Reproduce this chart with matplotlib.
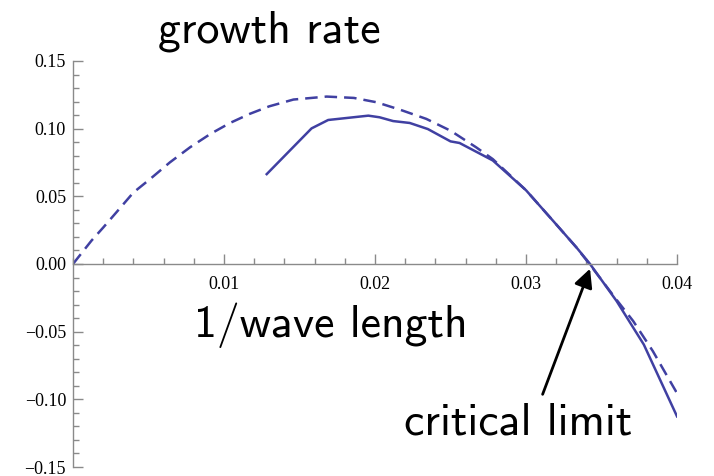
import matplotlib.pyplot as plt
from matplotlib.ticker import MultipleLocator, FixedLocator

# wave number (1/wave length) and growth rate, model curve
k_model = [0.0, 0.00123, 0.002, 0.0029, 0.004, 0.0051, 0.00642, 0.00775,
           0.0091, 0.0104, 0.0117, 0.013, 0.0146, 0.0168, 0.0186, 0.0201,
           0.02166, 0.0234, 0.025, 0.0267, 0.0278, 0.030, 0.0318, 0.03335,
           0.0342, 0.036, 0.0371, 0.0384, 0.04]
rate_model = [0.0, 0.0173, 0.0269, 0.0385, 0.0528, 0.0627, 0.0751, 0.0862,
              0.0961, 0.1042, 0.1109, 0.1165, 0.1215, 0.1237, 0.1227, 0.1195,
              0.114, 0.1072, 0.0985, 0.0862, 0.0775, 0.0545, 0.0318, 0.0121,
              0.0, -0.0265, -0.0422, -0.0644, -0.0955]

# simulation points
k_sim = [0.01283, 0.0158, 0.0169, 0.01956, 0.0203, 0.0212, 0.0223, 0.0235,
         0.025, 0.0256, 0.027, 0.0278, 0.030, 0.0318, 0.03335, 0.03424,
         0.036, 0.0378, 0.04]
rate_sim = [0.0664, 0.1002, 0.1064, 0.1096, 0.1084, 0.1056, 0.1042, 0.0997,
            0.0906, 0.0894, 0.0812, 0.0765, 0.0545, 0.0318, 0.0121, 0.0,
            -0.0274, -0.0595, -0.1126]

x_ticks = [0.01, 0.02, 0.03, 0.04]
y_ticks = [-0.15, -0.10, -0.05, 0.00, 0.05, 0.10, 0.15]

line_color = '#4040a2'
axis_color = '#8a8a8a'

fig = plt.figure(figsize=(7.14, 4.76), dpi=100)
ax = fig.add_axes([0.1022, 0.0189, 0.846, 0.853])

ax.plot(k_model, rate_model, color=line_color, lw=1.8, ls=(0, (5, 2.8)))
ax.plot(k_sim, rate_sim, color=line_color, lw=1.8)

ax.set_xlim(0, 0.04)
ax.set_ylim(-0.15, 0.15)

# axes cross at the origin
ax.spines['left'].set_position(('data', 0))
ax.spines['bottom'].set_position(('data', 0))
ax.spines['right'].set_visible(False)
ax.spines['top'].set_visible(False)
for s in ('left', 'bottom'):
    ax.spines[s].set_color(axis_color)
    ax.spines[s].set_linewidth(1.0)

ax.xaxis.set_major_locator(FixedLocator(x_ticks))
ax.xaxis.set_minor_locator(MultipleLocator(0.002))
ax.yaxis.set_major_locator(FixedLocator(y_ticks))
ax.yaxis.set_minor_locator(MultipleLocator(0.01))
ax.set_xticklabels([f'{v:.2f}' for v in x_ticks])
ax.set_yticklabels([f'{v:.2f}'.replace('-', '\u2212') for v in y_ticks])

ax.tick_params(axis='x', which='major', direction='in', length=7, width=1,
               color=axis_color, pad=9)
ax.tick_params(axis='x', which='minor', direction='in', length=4.5, width=1,
               color=axis_color)
ax.tick_params(axis='y', which='major', direction='in', length=7, width=1,
               color=axis_color, pad=5)
ax.tick_params(axis='y', which='minor', direction='in', length=4, width=1,
               color=axis_color)
for lab in ax.get_xticklabels() + ax.get_yticklabels():
    lab.set_fontfamily('Liberation Serif')
    lab.set_fontsize(13)

big = dict(family='cmss10', fontsize=33, color='black')
ax.text(0.0130, 0.1637, 'growth rate', ha='center', va='baseline',
        clip_on=False, **big)
ax.text(0.0171, -0.054, '1/wave length', ha='center', va='baseline', **big)
ax.text(0.0295, -0.126, 'critical limit', ha='center', va='baseline', **big)

ax.annotate('', xy=(0.03424, -0.0035), xytext=(0.0311, -0.0963),
            arrowprops=dict(arrowstyle='-|>', color='black', lw=2,
                            mutation_scale=28, shrinkA=0, shrinkB=0))

fig.savefig('out.png', dpi=100)
